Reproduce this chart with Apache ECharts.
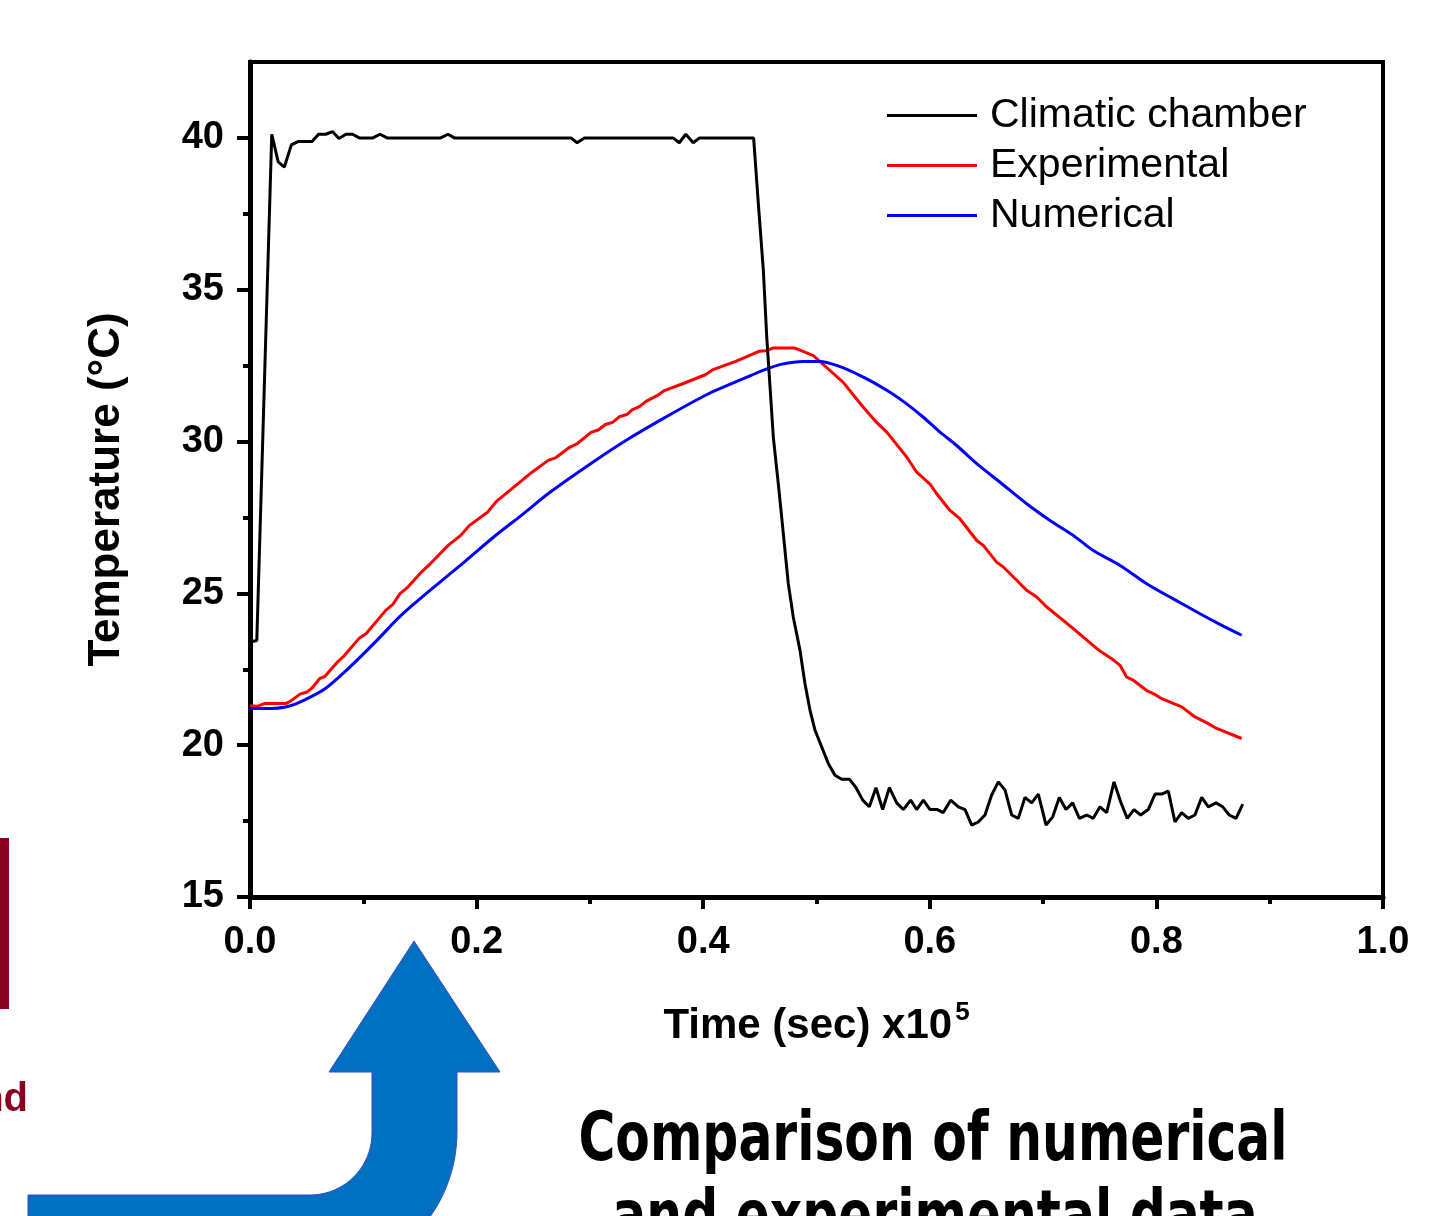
<!DOCTYPE html>
<html>
<head>
<meta charset="utf-8">
<script src="https://cdn.jsdelivr.net/npm/echarts@6/dist/echarts.min.js"></script>
<style>
  html, body { margin: 0; padding: 0; background: #fff; }
  #chart { width: 1446px; height: 1216px; }
</style>
</head>
<body>
<div id="chart"></div>
<script>
// ---- Data (time in units of 1e5 s, temperature in °C) ----
const chamberT = [0, 0.006, 0.0192, 0.0249, 0.0303, 0.0365, 0.0423, 0.0548, 0.0605, 0.0668, 0.0728, 0.0785, 0.0847, 0.0905, 0.0965, 0.1085, 0.1147, 0.121, 0.1683, 0.1747, 0.1803, 0.2833, 0.2887, 0.2951, 0.3733, 0.3789, 0.3846, 0.3912, 0.3968, 0.4445, 0.4487, 0.4531, 0.4561, 0.459, 0.4619, 0.4663, 0.4693, 0.4722, 0.4751, 0.4795, 0.4854, 0.4898, 0.4943, 0.4987, 0.5046, 0.5104, 0.5163, 0.5222, 0.529, 0.5349, 0.5408, 0.5466, 0.5525, 0.5584, 0.5643, 0.5708, 0.5766, 0.5831, 0.5884, 0.5943, 0.6002, 0.6066, 0.6119, 0.6184, 0.6252, 0.6311, 0.637, 0.6428, 0.6487, 0.6546, 0.6605, 0.6664, 0.6723, 0.6781, 0.684, 0.6899, 0.6958, 0.7026, 0.7085, 0.7143, 0.7202, 0.7261, 0.732, 0.7385, 0.7443, 0.7502, 0.7561, 0.7626, 0.7685, 0.7743, 0.7802, 0.7861, 0.7928, 0.7988, 0.8047, 0.8105, 0.8164, 0.8223, 0.8281, 0.834, 0.84, 0.8458, 0.8526, 0.8585, 0.8643, 0.8703, 0.8762];
const chamberTemp = [23.4, 23.45, 40.12, 39.21, 39.04, 39.77, 39.88, 39.88, 40.12, 40.12, 40.21, 39.98, 40.12, 40.12, 40.0, 40.0, 40.12, 40.0, 40.0, 40.12, 40.0, 40.0, 39.84, 40.0, 40.0, 39.84, 40.12, 39.84, 40.0, 40.0, 37.82, 35.63, 33.43, 31.79, 30.14, 28.6, 27.5, 26.41, 25.32, 24.22, 23.13, 22.03, 21.15, 20.49, 19.94, 19.4, 19.01, 18.88, 18.88, 18.6, 18.19, 17.97, 18.6, 17.88, 18.6, 18.1, 17.88, 18.19, 17.88, 18.19, 17.88, 17.88, 17.78, 18.19, 17.97, 17.88, 17.37, 17.47, 17.7, 18.36, 18.79, 18.52, 17.7, 17.59, 18.28, 18.1, 18.39, 17.37, 17.64, 18.28, 17.88, 18.1, 17.59, 17.7, 17.59, 17.97, 17.78, 18.79, 18.13, 17.59, 17.88, 17.7, 17.88, 18.39, 18.39, 18.49, 17.47, 17.78, 17.59, 17.7, 18.28, 17.97, 18.1, 17.97, 17.7, 17.59, 18.06];

const expT = [0, 0.0062, 0.0126, 0.0315, 0.0362, 0.0441, 0.0503, 0.0552, 0.0614, 0.0662, 0.0772, 0.0835, 0.0961, 0.1024, 0.1198, 0.1261, 0.1324, 0.1386, 0.1513, 0.1576, 0.1749, 0.186, 0.1938, 0.2096, 0.2175, 0.2489, 0.2632, 0.2695, 0.2821, 0.2884, 0.301, 0.3073, 0.3137, 0.32, 0.3262, 0.3326, 0.3372, 0.3436, 0.3499, 0.3593, 0.3657, 0.383, 0.4019, 0.4082, 0.4287, 0.4492, 0.4554, 0.4618, 0.4807, 0.4854, 0.4972, 0.5119, 0.5236, 0.5413, 0.5531, 0.562, 0.5796, 0.5884, 0.6002, 0.6061, 0.6178, 0.6267, 0.6414, 0.6472, 0.659, 0.6649, 0.6767, 0.6855, 0.6943, 0.7032, 0.7178, 0.7266, 0.7355, 0.7502, 0.7605, 0.7679, 0.7738, 0.7796, 0.7914, 0.7973, 0.8047, 0.8223, 0.8341, 0.8458, 0.8532, 0.8753];
const expTemp = [21.3, 21.28, 21.37, 21.37, 21.46, 21.68, 21.75, 21.9, 22.19, 22.27, 22.74, 22.96, 23.51, 23.67, 24.44, 24.64, 24.99, 25.18, 25.7, 25.92, 26.58, 26.91, 27.24, 27.67, 28.03, 28.99, 29.38, 29.46, 29.81, 29.92, 30.3, 30.38, 30.56, 30.63, 30.82, 30.89, 31.04, 31.15, 31.33, 31.51, 31.68, 31.92, 32.2, 32.36, 32.64, 32.97, 32.99, 33.08, 33.08, 33.01, 32.83, 32.34, 31.95, 31.13, 30.63, 30.31, 29.49, 28.99, 28.6, 28.28, 27.73, 27.45, 26.74, 26.58, 26.03, 25.87, 25.43, 25.1, 24.88, 24.55, 24.11, 23.84, 23.56, 23.1, 22.85, 22.63, 22.24, 22.14, 21.8, 21.7, 21.53, 21.26, 20.93, 20.71, 20.55, 20.22];

const numT = [0, 0.0189, 0.0315, 0.041, 0.0536, 0.0662, 0.0788, 0.0945, 0.1135, 0.1324, 0.1513, 0.1703, 0.1891, 0.2159, 0.2395, 0.2648, 0.3026, 0.3342, 0.3657, 0.4034, 0.435, 0.4539, 0.4696, 0.4883, 0.5031, 0.5207, 0.5355, 0.5501, 0.5649, 0.5796, 0.5943, 0.609, 0.6237, 0.6414, 0.662, 0.6855, 0.7061, 0.7266, 0.7443, 0.7679, 0.7914, 0.8149, 0.8385, 0.8561, 0.8753];
const numTemp = [21.21, 21.21, 21.26, 21.37, 21.59, 21.86, 22.25, 22.8, 23.51, 24.24, 24.86, 25.45, 26.03, 26.88, 27.57, 28.33, 29.32, 30.09, 30.78, 31.55, 32.06, 32.36, 32.55, 32.64, 32.64, 32.47, 32.23, 31.95, 31.62, 31.24, 30.8, 30.31, 29.87, 29.27, 28.66, 27.95, 27.4, 26.91, 26.41, 25.92, 25.32, 24.82, 24.33, 23.98, 23.62];

const seriesNames = ['Climatic chamber', 'Experimental', 'Numerical'];
const yMajorTicks = [15, 20, 25, 30, 35, 40];
const yMinorTicks = [17.5, 22.5, 27.5, 32.5, 37.5];

function zip(a, b) { return a.map((v, i) => [v, b[i]]); }

const chart = echarts.init(document.getElementById('chart'), null, { renderer: 'canvas' });

const FONT = '"Liberation Sans", Arial, Helvetica, sans-serif';

// Decorative arrow outline (background slide element)
function arrowPoints() {
  const pts = [[414, 941], [500, 1072], [457, 1072], [457, 1132]];
  const cx = 310, cy = 1132, R = 147, r = 62;
  for (let i = 1; i <= 20; i++) {
    const a = (i / 20) * (Math.PI * 0.28);
    pts.push([cx + R * Math.cos(a), cy + R * Math.sin(a)]);
  }
  pts.push([28, 1232], [28, 1195], [310, 1195]);
  for (let i = 1; i <= 20; i++) {
    const a = Math.PI / 2 - (i / 20) * (Math.PI / 2);
    pts.push([cx + r * Math.cos(a), cy + 1 + r * Math.sin(a)]);
  }
  pts.push([372, 1072], [329, 1072]);
  return pts;
}

const option = {
  animation: false,
  backgroundColor: '#ffffff',
  grid: {
    left: 250, right: 63, top: 62, bottom: 319,
    show: true, borderColor: '#000', borderWidth: 4, backgroundColor: 'transparent'
  },
  legend: {
    orient: 'vertical',
    left: 887, top: 95,
    padding: 0,
    itemGap: 9,
    itemWidth: 90,
    itemHeight: 3,
    icon: 'rect',
    data: seriesNames,
    textStyle: { fontSize: 41, fontFamily: FONT, color: '#000', padding: [0, 0, 0, 8] }
  },
  xAxis: {
    type: 'value', min: 0, max: 1, interval: 0.2,
    axisLine: { show: true, onZero: false, lineStyle: { color: '#000', width: 5 } },
    axisTick: { show: true, length: 12, lineStyle: { color: '#000', width: 4 } },
    minorTick: { show: true, splitNumber: 2, length: 7, lineStyle: { color: '#000', width: 4 } },
    splitLine: { show: false },
    minorSplitLine: { show: false },
    axisLabel: {
      margin: 27, fontSize: 38, fontWeight: 'bold', fontFamily: FONT, color: '#000',
      formatter: v => v.toFixed(1)
    },
    name: '{t|Time (sec) x10}{s|5}',
    nameLocation: 'middle',
    nameGap: 103,
    nameTextStyle: {
      rich: {
        t: { fontSize: 42, fontWeight: 'bold', fontFamily: FONT, color: '#000' },
        s: { fontSize: 26, fontWeight: 'bold', fontFamily: FONT, color: '#000', padding: [0, 0, 26, 3] }
      }
    }
  },
  yAxis: [
    {
      type: 'value', min: 15, max: 42.5,
      axisLine: { show: true, onZero: false, lineStyle: { color: '#000', width: 5 } },
      axisTick: { show: true, length: 13, customValues: yMajorTicks, lineStyle: { color: '#000', width: 4 } },
      splitLine: { show: false },
      axisLabel: {
        customValues: yMajorTicks,
        margin: 26, fontSize: 38, fontWeight: 'bold', fontFamily: FONT, color: '#000'
      },
      name: 'Temperature (°C)',
      nameLocation: 'middle',
      nameGap: 121,
      nameRotate: 90,
      nameTextStyle: { fontSize: 44, fontWeight: 'bold', fontFamily: FONT, color: '#000', padding: [0, 20, 0, 0] }
    },
    {
      type: 'value', min: 15, max: 42.5, position: 'left',
      axisLine: { show: false },
      axisTick: { show: true, length: 7, customValues: yMinorTicks, lineStyle: { color: '#000', width: 4 } },
      axisLabel: { show: false },
      splitLine: { show: false }
    }
  ],
  series: [
    {
      name: 'Experimental', type: 'line', yAxisIndex: 0,
      data: zip(expT, expTemp), showSymbol: false, symbol: 'none',
      lineStyle: { color: '#ff0000', width: 3 }, itemStyle: { color: '#ff0000' }
    },
    {
      name: 'Numerical', type: 'line', yAxisIndex: 0,
      data: zip(numT, numTemp), showSymbol: false, symbol: 'none', smooth: 0.3,
      lineStyle: { color: '#0000ff', width: 3 }, itemStyle: { color: '#0000ff' }
    },
    {
      name: 'Climatic chamber', type: 'line', yAxisIndex: 0,
      data: zip(chamberT, chamberTemp), showSymbol: false, symbol: 'none',
      lineStyle: { color: '#000000', width: 3 }, itemStyle: { color: '#000000' }
    }
  ],
  graphic: [
    { type: 'rect', shape: { x: 0, y: 838, width: 9, height: 171 }, style: { fill: '#8a0020' }, silent: true },
    { type: 'text', x: 28, y: 1080, silent: true,
      style: { text: 'nd', fill: '#8a0020', fontSize: 40, fontWeight: 'bold', fontFamily: FONT, align: 'right', verticalAlign: 'top' } },
    { type: 'polygon', shape: { points: arrowPoints() }, silent: true,
      style: { fill: '#0070c0', stroke: '#3c4bc8', lineWidth: 1 } },
    { type: 'text', x: 933, y: 1108, scaleX: 0.74, silent: true,
      style: { text: 'Comparison of numerical', fill: '#000', fontSize: 68, fontWeight: 'bold',
               fontFamily: '"Comic Sans MS", "DejaVu Sans", sans-serif', align: 'center', verticalAlign: 'top' } },
    { type: 'text', x: 935, y: 1186, scaleX: 0.74, silent: true,
      style: { text: 'and experimental data', fill: '#000', fontSize: 68, fontWeight: 'bold',
               fontFamily: '"Comic Sans MS", "DejaVu Sans", sans-serif', align: 'center', verticalAlign: 'top' } }
  ]
};

chart.setOption(option);
</script>
</body>
</html>
